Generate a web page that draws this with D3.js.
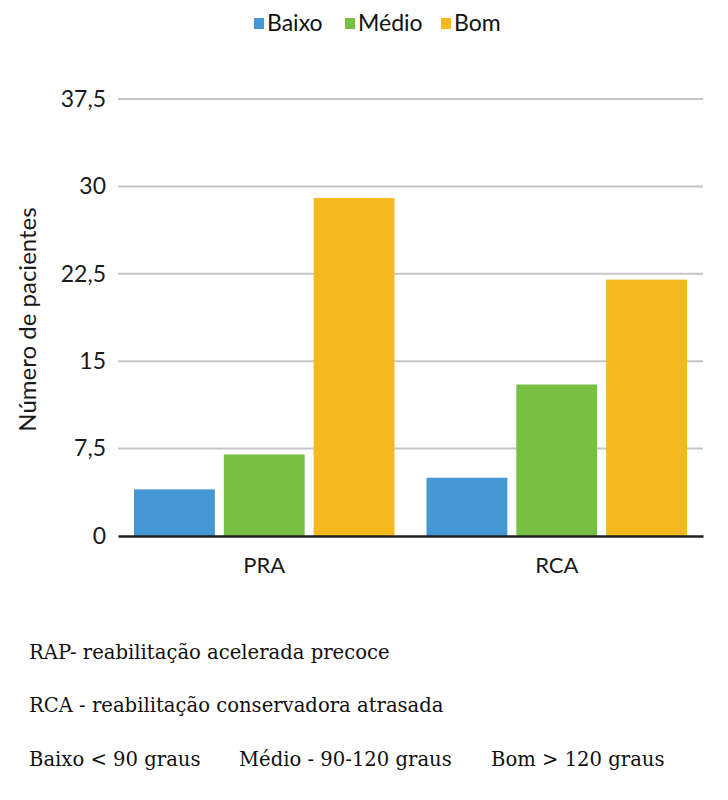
<!DOCTYPE html>
<html>
<head>
<meta charset="utf-8">
<script src="https://cdn.jsdelivr.net/npm/d3@7/dist/d3.min.js"></script>
<style>
  html, body { margin: 0; padding: 0; background: #fff; }
  svg { display: block; }
</style>
</head>
<body>
<div id="chart"></div>
<script>
// ---- data ----
const categories = ["PRA", "RCA"];
const seriesNames = ["Baixo", "Médio", "Bom"];
const baixo = [4, 5];
const medio = [7, 13];
const bom = [29, 22];
const yTicks = [0, 7.5, 15, 22.5, 30, 37.5];
const colors = ["#4597d4", "#77c043", "#f4b91c"];
const notes = [
  ["RAP- reabilitação acelerada precoce"],
  ["RCA - reabilitação conservadora atrasada"],
  ["Baixo < 90 graus", "Médio - 90-120 graus", "Bom > 120 graus"]
];

const seriesValues = [baixo, medio, bom];
const rows = categories.map((c, i) => ({
  cat: c,
  vals: seriesNames.map((s, j) => ({ key: s, value: seriesValues[j][i], idx: j }))
}));

const W = 728, H = 800;
const margin = { left: 118, right: 25, top: 99, bottom: 264 };
const svg = d3.select("#chart").append("svg").attr("width", W).attr("height", H);

const plotW = W - margin.left - margin.right;
const plotH = H - margin.top - margin.bottom;
const g = svg.append("g").attr("transform", `translate(${margin.left},${margin.top})`);

const y = d3.scaleLinear().domain([0, 37.5]).range([plotH, 0]);
const x0 = d3.scaleBand().domain(categories).range([0, plotW]).padding(0);
const x1 = d3.scaleBand().domain(seriesNames)
  .range([16, x0.bandwidth() - 16]).paddingInner(0.1).paddingOuter(0);

const sans = "Lato, 'Open Sans', sans-serif";
const serif = "'DejaVu Serif', 'Liberation Serif', 'Noto Serif', serif";
const fmt = d => String(d).replace(".", ",");

// gridlines
g.append("g")
  .selectAll("line")
  .data(yTicks.filter(t => t > 0))
  .join("line")
  .attr("x1", 0).attr("x2", plotW)
  .attr("y1", d => y(d)).attr("y2", d => y(d))
  .attr("stroke", "#c6c6c6").attr("stroke-width", 2);

// y axis labels
const yAxis = d3.axisLeft(y).tickValues(yTicks).tickFormat(fmt).tickSize(0).tickPadding(12);
const ya = g.append("g").call(yAxis);
ya.select(".domain").remove();
ya.selectAll("text").attr("font-family", sans).attr("font-size", 23).attr("fill", "#1a1a1a");

// bars
g.append("g")
  .selectAll("g")
  .data(rows)
  .join("g")
  .attr("transform", d => `translate(${x0(d.cat)},0)`)
  .selectAll("rect")
  .data(d => d.vals)
  .join("rect")
  .attr("x", d => x1(d.key))
  .attr("width", x1.bandwidth())
  .attr("y", d => y(d.value))
  .attr("height", d => plotH - y(d.value))
  .attr("fill", d => colors[d.idx]);

// x axis
const xAxis = d3.axisBottom(x0).tickSize(0).tickPadding(21);
const xa = g.append("g").attr("transform", `translate(0,${plotH})`).call(xAxis);
xa.select(".domain").attr("stroke", "#1e1e1e").attr("stroke-width", 2.5);
xa.selectAll("text").attr("font-family", sans).attr("font-size", 22).attr("fill", "#1a1a1a");

// y axis title
svg.append("text")
  .attr("transform", `translate(36,${margin.top + plotH / 2 + 2}) rotate(-90)`)
  .attr("text-anchor", "middle")
  .attr("font-family", sans).attr("font-size", 24).attr("fill", "#1a1a1a")
  .text("Número de pacientes");

// legend
const legendItems = [
  { name: seriesNames[0], x: 254 },
  { name: seriesNames[1], x: 345 },
  { name: seriesNames[2], x: 441 }
];
const lg = svg.append("g");
legendItems.forEach((it, i) => {
  lg.append("rect").attr("x", it.x).attr("y", 18).attr("width", 10).attr("height", 11).attr("fill", colors[i]);
  lg.append("text").attr("x", it.x + 13).attr("y", 31)
    .attr("font-family", sans).attr("font-size", 23).attr("fill", "#111")
    .text(it.name);
});

// notes
const noteX = [[29], [29], [29, 239, 491]];
const noteY = [659, 712, 766];
notes.forEach((line, i) => {
  line.forEach((t, j) => {
    svg.append("text")
      .attr("x", noteX[i][j]).attr("y", noteY[i])
      .attr("font-family", serif)
      .attr("font-size", 19.6).attr("fill", "#111")
      .text(t);
  });
});
</script>
</body>
</html>
